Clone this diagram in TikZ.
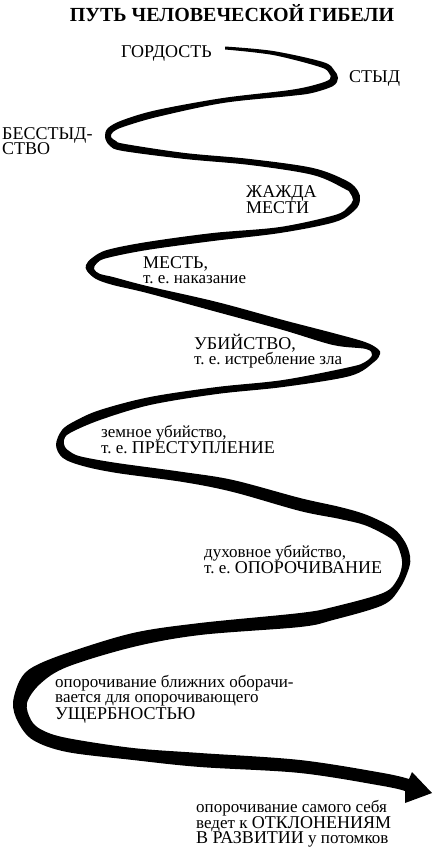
\documentclass[tikz,border=0pt]{standalone}
\usepackage{fontspec}
\setmainfont{Liberation Serif}
\frenchspacing
\newcommand\capsword[1]{{\fontsize{18}{14}\selectfont #1}}
\newcommand\lblfont{\fontsize{17}{14}\selectfont\lineskiplimit=-20pt\relax}
\newcommand\caplblfont{\fontsize{18}{14}\selectfont\lineskiplimit=-20pt\relax}
\tikzset{
  lbl/.style={anchor=base west, inner sep=0pt, align=left, font=\lblfont},
  caplbl/.style={lbl, font=\caplblfont},
  band/.style={smooth,tension=0.55},
}
\begin{document}
\begin{tikzpicture}[x=1pt,y=-1pt]
\useasboundingbox (0,0) rectangle (432,849);
% the band: one side down to the arrow, then the other side back up
\fill plot[band] coordinates {
  (225,46.5) (273,51) (323,62) (334,70) (338,78) (333,86) (312,93) (290,96)
  (223,103) (157,117) (123,127) (113,132) (111,137) (116,141) (125,144)
  (185,153) (250,159) (313,168) (347,181) (358,191) (360,200) (355,210)
  (335,222) (280,233) (213,241) (147,250) (107,258) (97,263) (94,269)
  (100,274) (113,277) (147,286) (217,302) (283,320) (333,333) (365,342)
  (378,349) (380,354) (374,362) (350,376) (283,387) (217,394) (150,405)
  (100,420) (70,433) (64,440) (65,447) (72,453) (83,457) (117,463)
  (183,472) (233,480) (300,498) (340,507) (367,515) (393,528) (405,542)
  (410,556) (409,568) (400,588) (383,605) (333,620) (300,627) (200,635)
  (133,647) (67,667) (40,684) (27,703) (31,720) (42,730) (67,738)
  (133,748) (200,753) (300,760) (383,773) (409,779)}
  -- (412,772) -- (432,793) -- (405,803) -- plot[band] coordinates {
  (405,791) (383,786) (300,773) (200,767) (133,760) (67,752) (33,740)
  (18,722) (13,703) (20,680) (33,667) (67,653) (133,633) (200,623)
  (300,613) (333,607) (383,593) (397,580) (402,565) (400,552) (393,540)
  (367,526) (340,519) (300,511) (233,492) (183,482) (117,473) (83,466)
  (63,458) (56,445) (62,430) (75,421) (100,410) (150,397) (217,387)
  (283,380) (350,367) (365,362) (372,355) (366,349) (333,345) (283,330)
  (217,312) (147,293) (113,285) (96,279) (87,271) (86,265) (92,258)
  (107,250) (147,242) (213,233) (280,227) (335,215) (348,207) (353,200)
  (350,193) (345,189) (313,175) (250,165) (185,159) (123,151) (110,146)
  (105,137) (108,128) (123,120) (157,110) (223,98) (290,90) (318,84)
  (330,79) (329,73) (320,67) (273,55) (225,49.5)} -- cycle;

% labels sit on the baseline of their last line
\node[anchor=base, inner sep=0pt, font=\fontsize{20}{24}\selectfont\bfseries]
  (title) at (232,21) {ПУТЬ ЧЕЛОВЕЧЕСКОЙ ГИБЕЛИ};
\node[caplbl] (gordost) at (121,57) {ГОРДОСТЬ};
\node[caplbl] (styd) at (349,82) {СТЫД};
\node[caplbl] (besstyd) at (2,154) {БЕССТЫД-\\[1pt]СТВО};
\node[caplbl] (zhazhda) at (246,213) {ЖАЖДА\\[1.5pt]МЕСТИ};
\node[lbl] (mest) at (143,283) {\capsword{МЕСТЬ,}\\[1pt]т. е. наказание};
\node[lbl] (ubiystvo) at (194,364) {\capsword{УБИЙСТВО,}\\[1pt]т. е. истребление зла};
\node[lbl] (zemnoe) at (101,453) {земное убийство,\\[1.5pt]т. е. \capsword{ПРЕСТУПЛЕНИЕ}};
\node[lbl] (dukhovnoe) at (204,573) {духовное убийство,\\[2pt]т. е. \capsword{ОПОРОЧИВАНИЕ}};
\node[lbl] (ushcherb) at (55,719)
  {опорочивание ближних оборачи-\\[0.5pt]вается для опорочивающего\\[3pt]\capsword{УЩЕРБНОСТЬЮ}};
\node[lbl] (otklon) at (196,843)
  {опорочивание самого себя\\[2pt]ведет к \capsword{ОТКЛОНЕНИЯМ}\\[1pt]\capsword{В РАЗВИТИИ} у потомков};
\end{tikzpicture}
\end{document}
